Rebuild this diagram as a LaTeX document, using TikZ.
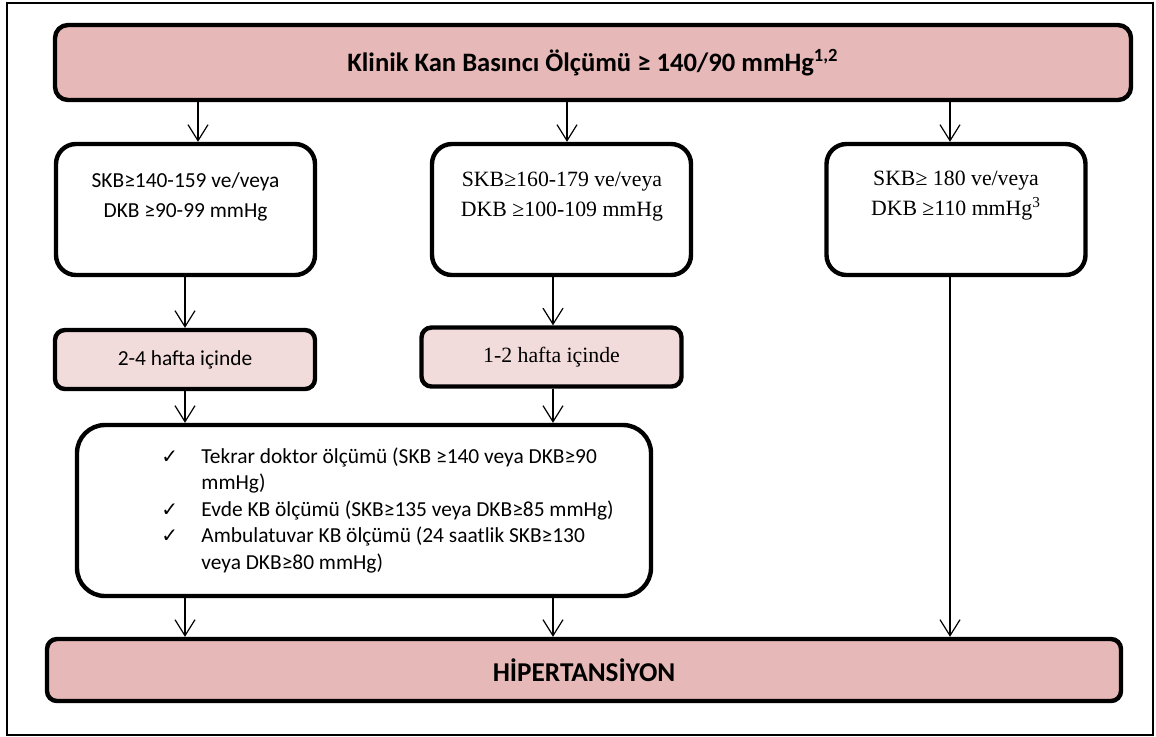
\documentclass[tikz,border=0pt]{standalone}
\usepackage{fontspec}
\setmainfont{Carlito}
\newfontfamily\tnr{Liberation Serif}
\newfontfamily\chk{DejaVu Sans}
\usetikzlibrary{arrows.meta}
\definecolor{roseA}{HTML}{E6B8B7}
\definecolor{roseB}{HTML}{F2DCDB}

\begin{document}
\begin{tikzpicture}[x=0.5pt,y=-0.5pt,
  frame/.style={draw,line width=2.2pt,inner sep=0pt},
  level/.style={frame,rounded corners=10pt,minimum width=129.5pt,minimum height=65.5pt},
  wait/.style={frame,fill=roseB,rounded corners=5pt,minimum width=130pt,minimum height=29.5pt,font=\fontsize{10.7}{13}\selectfont},
  tx/.style={align=center,font=\fontsize{10.7}{15}\selectfont},
  arr/.style={-{Straight Barb[length=8pt,width=10pt]},line width=0.6pt}]
  \useasboundingbox (0,0) rectangle (1156,736);
  \draw[line width=0.7pt] (7,3) rectangle (1153,735);

  \node[frame,fill=roseA,rounded corners=6.5pt,minimum width=538pt,minimum height=37.5pt,
    font=\bfseries\fontsize{13.3}{15}\selectfont] (klinik) at (593,62.5)
    {Klinik Kan Basıncı Ölçümü ≥ 140/90 mmHg\textsuperscript{1,2}};

  \node[level] (evre1) at (185.5,209.5) {};
  \node[level] (evre2) at (561.5,209.5) {};
  \node[level] (evre3) at (956,209.5) {};
  \node[tx] (evre1_text) at (185.5,197) {SKB≥140-159 ve/veya\\DKB ≥90-99 mmHg};
  \node[tx,font=\tnr\fontsize{10.9}{15}\selectfont] (evre2_text) at (562,197)
    {SKB≥160-179 ve/veya\\DKB ≥100-109 mmHg};
  \node[tx,font=\tnr\fontsize{10.9}{15}\selectfont] (evre3_text) at (956,196)
    {SKB≥ 180 ve/veya\\DKB ≥110 mmHg\textsuperscript{3}};

  \node[wait] (hafta1) at (185,359.5) {2-4 hafta içinde};
  \node[wait,font=\tnr\fontsize{10.9}{13}\selectfont] (hafta2) at (551.5,357) {1-2 hafta içinde};

  \node[frame,rounded corners=14pt,minimum width=287pt,minimum height=85.5pt] (olcum) at (364,510.5) {};
  \node[anchor=west,inner sep=0pt,font=\fontsize{10.7}{13.2}\selectfont] (olcum_text) at (161,511)
    {\begin{tabular}{@{}p{20pt}@{}l@{}}
      {\chk\fontsize{10}{13}\selectfont ✓} & Tekrar doktor ölçümü (SKB ≥140 veya DKB≥90\\
      & mmHg)\\
      {\chk\fontsize{10}{13}\selectfont ✓} & Evde KB ölçümü (SKB≥135 veya DKB≥85 mmHg)\\
      {\chk\fontsize{10}{13}\selectfont ✓} & Ambulatuvar KB ölçümü (24 saatlik SKB≥130\\
      & veya DKB≥80 mmHg)
    \end{tabular}};

  \node[frame,fill=roseA,rounded corners=5pt,minimum width=537pt,minimum height=31pt,
    font=\bfseries\fontsize{13.6}{15}\selectfont] (hip) at (584,670) {HİPERTANSİYON};

  \coordinate (k1) at (198,0);
  \coordinate (k2) at (567,0);
  \coordinate (k3) at (950,0);
  \coordinate (s1) at (185,0);
  \coordinate (s2) at (553,0);

  \draw[arr] (klinik.south -| k1) -- (evre1.north -| k1);
  \draw[arr] (klinik.south -| k2) -- (evre2.north -| k2);
  \draw[arr] (klinik.south -| k3) -- (evre3.north -| k3);
  \draw[arr] (evre1.south -| s1) -- (hafta1.north -| s1);
  \draw[arr] (evre2.south -| s2) -- (hafta2.north -| s2);
  \draw[arr] (hafta1.south -| s1) -- (olcum.north -| s1);
  \draw[arr] (hafta2.south -| s2) -- (olcum.north -| s2);
  \draw[arr] (olcum.south -| s1) -- (hip.north -| s1);
  \draw[arr] (olcum.south -| s2) -- (hip.north -| s2);
  \draw[arr] (evre3.south -| k3) -- (hip.north -| k3);
\end{tikzpicture}
\end{document}
